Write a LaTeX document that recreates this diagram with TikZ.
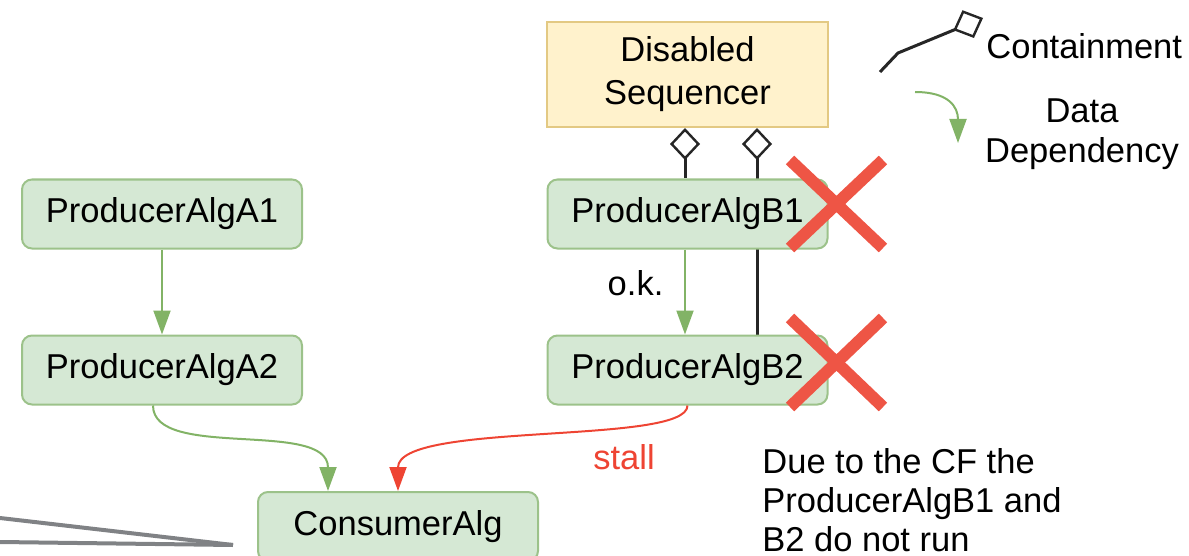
\documentclass[tikz,border=0pt]{standalone}
\usepackage{fontspec}
\setmainfont{Liberation Sans}
\usetikzlibrary{arrows.meta,backgrounds}

\definecolor{algfill}{HTML}{D5E8D4}
\definecolor{algline}{HTML}{9CC28A}
\definecolor{seqfill}{HTML}{FFF2CC}
\definecolor{seqline}{HTML}{E3C983}
\definecolor{depgreen}{HTML}{82B366}
\definecolor{stallred}{HTML}{EE4433}
\definecolor{crossred}{HTML}{EE5545}
\definecolor{pointergrey}{HTML}{808285}

\begin{document}
\begin{tikzpicture}[x=0.5pt,y=-0.5pt,
  txt/.style={font=\fontsize{17.25}{20}\selectfont},
  alg/.style={txt, draw=algline, fill=algfill, line width=1pt,
    rounded corners=5pt, minimum width=140pt, minimum height=34.5pt, inner sep=0pt},
  seqbox/.style={txt, draw=seqline, fill=seqfill, line width=1pt, align=center,
    minimum width=140.5pt, minimum height=52.5pt, inner sep=0pt,
    font=\fontsize{17.25}{21.5}\selectfont},
  dep/.style={draw=depgreen, line width=1pt, -{Triangle[length=12pt,width=8.5pt]}},
  stalldep/.style={draw=stallred, line width=1pt, -{Triangle[length=12pt,width=8.5pt]}},
  contain/.style={draw=black!85, line width=1.5pt,
    {Diamond[fill=white,length=16pt,width=15pt,line width=1.2pt]}-},
  xmark/.style={draw=crossred, line width=6pt},
  pointer/.style={draw=pointergrey, line width=2pt},
]
\useasboundingbox (0,0) rectangle (1189,556);

% algorithm boxes
\node[alg] (a1) at (162,214) {ProducerAlgA1};
\node[alg] (a2) at (162,370) {ProducerAlgA2};
\node[alg] (b1) at (687.5,214) {ProducerAlgB1};
\node[alg] (b2) at (687.5,370) {ProducerAlgB2};
\node[alg] (cons) at (398,526.5) {ConsumerAlg};
\node[seqbox] (seq) at (687.5,74.5) {Disabled\\Sequencer};

% containment of the producers in the sequencer
\begin{scope}[on background layer]
  \draw[contain] ([xshift=-1.25pt]seq.south) -- ([xshift=-1.25pt]b1.north);
  \draw[contain] ([xshift=34.75pt]seq.south) -- ([xshift=34.75pt]b2.north);
\end{scope}

% data dependencies
\draw[dep] (a1) -- (a2);
\draw[dep] ([xshift=-1.25pt]b1.south) -- node[txt, text=black, left=7pt, pos=0.4] (ok) {o.k.} ([xshift=-1.25pt]b2.north);
\draw[dep] ([xshift=-4.5pt]a2.south) .. controls +(0,55) and +(0,-72) .. ([xshift=-35pt]cons.north);
\draw[stalldep] (b2.south) .. controls +(0,40) and +(0,-70) .. (cons.north);
\node[txt, text=stallred] (stall) at (624,457) {stall};

% crosses over the producers that do not run
\draw[xmark] (790,160) -- (883,248);
\draw[xmark] (883,160) -- (790,248);
\draw[xmark] (790,318) -- (883,407);
\draw[xmark] (883,318) -- (790,407);

% legend
\coordinate (ca) at (880,72);
\coordinate (cb) at (898,53);
\coordinate (cc) at (983,18);
\draw[contain, line join=round] (cc) -- (cb) -- (ca);
\node[txt, anchor=west, inner sep=0pt] (lcont) at (986,46) {Containment};
\coordinate (da) at (915,92);
\coordinate (db) at (958,143);
\draw[dep] (da) .. controls +(34,0) and +(0,-36) .. (db);
\node[txt, align=center, inner sep=0pt, font=\fontsize{17.25}{20}\selectfont] (ldep) at (1082,134) {Data\\Dependency};

% note
\node[txt, align=left, anchor=west, inner sep=0pt, font=\fontsize{17.25}{19.5}\selectfont] (note) at (762,500)
  {Due to the CF the\\ProducerAlgB1 and\\B2 do not run};

% callout pointer
\coordinate (p1) at (0,518);
\coordinate (p2) at (233,545);
\coordinate (p3) at (0,542);
\draw[pointer] (p1) -- (p2);
\draw[pointer] (p3) -- (p2);
\end{tikzpicture}
\end{document}
